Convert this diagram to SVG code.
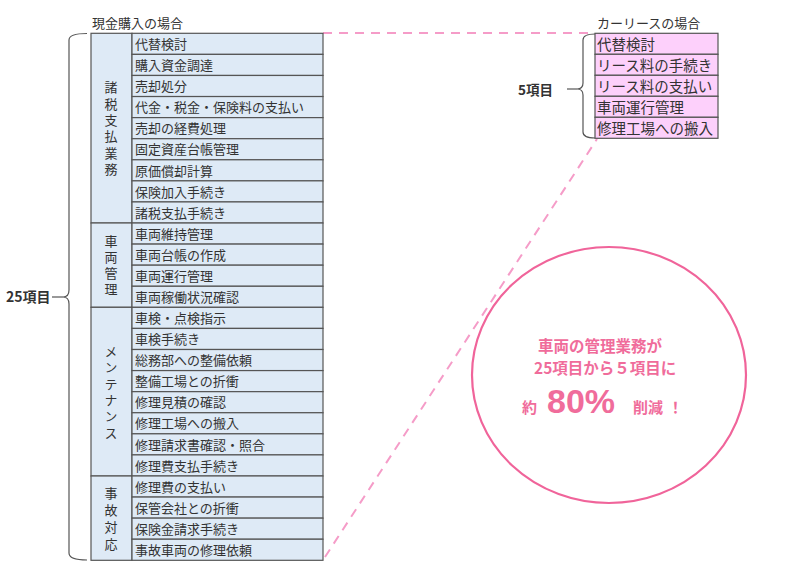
<svg xmlns="http://www.w3.org/2000/svg" width="800" height="579" viewBox="0 0 800 579">
<style>
.t{font-family:"Noto Sans CJK JP","Noto Sans",sans-serif;fill:#333;}
.it{font-size:13px;}
.rit{font-size:14.5px;}
.vt{font-family:"Noto Sans CJK JP","Noto Sans",sans-serif;fill:#333;font-size:13px;writing-mode:vertical-rl;text-anchor:middle;}
.cell{fill:#deeaf6;stroke:#555;stroke-width:1.2;}
.pcell{fill:#fdd0fb;stroke:#555;stroke-width:1.2;}
.br{fill:none;stroke:#555;stroke-width:1.2;}
.dash{fill:none;stroke:#f59cc8;stroke-width:2;stroke-dasharray:9 7;}
.pk{font-family:"Noto Sans CJK JP","Noto Sans",sans-serif;fill:#f06c9b;font-weight:bold;}
</style>
<rect width="800" height="579" fill="#fff"/>
<g id="connectors">
<path class="dash" d="M323,33 L595,33"/>
<path class="dash" d="M325,557 L597,139"/>
<path class="br" d="M87,33.5 Q69,33.5 69,40 L69,290 Q69,297 63,297 Q69,297 69,304 L69,553 Q69,560 87,560"/>
<path class="br" d="M52,297 L63,297"/>
<path class="br" d="M595,34 Q583,34 583,40 L583,83 Q583,89 577,89 Q583,89 583,95 L583,132 Q583,138 595,138"/>
<path class="br" d="M567,89 L577,89"/>
</g>
<g id="left-title"><text class="t" x="92" y="28" font-size="13">現金購入の場合</text></g>
<g id="left-count"><text class="t" x="6" y="302" font-size="14" font-weight="bold">25項目</text></g>
<g id="left-table">
<rect class="cell" x="91" y="33.3" width="41" height="189.7"/>
<rect class="cell" x="91" y="223" width="41" height="84.3"/>
<rect class="cell" x="91" y="307.3" width="41" height="168.7"/>
<rect class="cell" x="91" y="476" width="41" height="84.3"/>
<text class="vt" x="111" y="130" letter-spacing="3.4">諸税支払業務</text>
<text class="vt" x="111" y="267" letter-spacing="3">車両管理</text>
<text class="vt" x="111" y="393.5" letter-spacing="3.4">メンテナンス</text>
<text class="vt" x="111" y="521" letter-spacing="4">事故対応</text>
<rect class="cell" x="132" y="33.3" width="191" height="21.08"/>
<rect class="cell" x="132" y="54.38" width="191" height="21.08"/>
<rect class="cell" x="132" y="75.46" width="191" height="21.08"/>
<rect class="cell" x="132" y="96.54" width="191" height="21.08"/>
<rect class="cell" x="132" y="117.62" width="191" height="21.08"/>
<rect class="cell" x="132" y="138.7" width="191" height="21.08"/>
<rect class="cell" x="132" y="159.78" width="191" height="21.08"/>
<rect class="cell" x="132" y="180.86" width="191" height="21.08"/>
<rect class="cell" x="132" y="201.94" width="191" height="21.08"/>
<rect class="cell" x="132" y="223.02" width="191" height="21.08"/>
<rect class="cell" x="132" y="244.1" width="191" height="21.08"/>
<rect class="cell" x="132" y="265.18" width="191" height="21.08"/>
<rect class="cell" x="132" y="286.26" width="191" height="21.08"/>
<rect class="cell" x="132" y="307.34" width="191" height="21.08"/>
<rect class="cell" x="132" y="328.42" width="191" height="21.08"/>
<rect class="cell" x="132" y="349.5" width="191" height="21.08"/>
<rect class="cell" x="132" y="370.58" width="191" height="21.08"/>
<rect class="cell" x="132" y="391.66" width="191" height="21.08"/>
<rect class="cell" x="132" y="412.74" width="191" height="21.08"/>
<rect class="cell" x="132" y="433.82" width="191" height="21.08"/>
<rect class="cell" x="132" y="454.9" width="191" height="21.08"/>
<rect class="cell" x="132" y="475.98" width="191" height="21.08"/>
<rect class="cell" x="132" y="497.06" width="191" height="21.08"/>
<rect class="cell" x="132" y="518.14" width="191" height="21.08"/>
<rect class="cell" x="132" y="539.22" width="191" height="21.08"/>
<text class="t it" x="135" y="49">代替検討</text>
<text class="t it" x="135" y="70.1">購入資金調達</text>
<text class="t it" x="135" y="91.2">売却処分</text>
<text class="t it" x="135" y="112.2">代金・税金・保険料の支払い</text>
<text class="t it" x="135" y="133.3">売却の経費処理</text>
<text class="t it" x="135" y="154.4">固定資産台帳管理</text>
<text class="t it" x="135" y="175.5">原価償却計算</text>
<text class="t it" x="135" y="196.6">保険加入手続き</text>
<text class="t it" x="135" y="217.6">諸税支払手続き</text>
<text class="t it" x="135" y="238.7">車両維持管理</text>
<text class="t it" x="135" y="259.8">車両台帳の作成</text>
<text class="t it" x="135" y="280.9">車両運行管理</text>
<text class="t it" x="135" y="302">車両稼働状況確認</text>
<text class="t it" x="135" y="323">車検・点検指示</text>
<text class="t it" x="135" y="344.1">車検手続き</text>
<text class="t it" x="135" y="365.2">総務部への整備依頼</text>
<text class="t it" x="135" y="386.3">整備工場との折衝</text>
<text class="t it" x="135" y="407.4">修理見積の確認</text>
<text class="t it" x="135" y="428.4">修理工場への搬入</text>
<text class="t it" x="135" y="449.5">修理請求書確認・照合</text>
<text class="t it" x="135" y="470.6">修理費支払手続き</text>
<text class="t it" x="135" y="491.7">修理費の支払い</text>
<text class="t it" x="135" y="512.8">保管会社との折衝</text>
<text class="t it" x="135" y="533.8">保険金請求手続き</text>
<text class="t it" x="135" y="554.9">事故車両の修理依頼</text>
</g>
<g id="right-title"><text class="t" x="597" y="28" font-size="13">カーリースの場合</text></g>
<g id="right-count"><text class="t" x="518" y="95" font-size="13.5" font-weight="bold">5項目</text></g>
<g id="right-table">
<rect class="pcell" x="595" y="33.3" width="123" height="21"/>
<rect class="pcell" x="595" y="54.3" width="123" height="21"/>
<rect class="pcell" x="595" y="75.3" width="123" height="21"/>
<rect class="pcell" x="595" y="96.3" width="123" height="21"/>
<rect class="pcell" x="595" y="117.3" width="123" height="21"/>
<text class="t rit" x="597" y="49.5">代替検討</text>
<text class="t rit" x="597" y="70.5">リース料の手続き</text>
<text class="t rit" x="597" y="91.5">リース料の支払い</text>
<text class="t rit" x="597" y="112.5">車両運行管理</text>
<text class="t rit" x="597" y="133.5">修理工場への搬入</text>
</g>
<g id="result-circle">
<ellipse cx="609" cy="375" rx="137" ry="128" fill="none" stroke="#f0649a" stroke-width="2.2"/>
<text class="pk" x="538" y="352" font-size="15.5">車両の管理業務が</text>
<text class="pk" x="534" y="374" font-size="15.5">25項目から５項目に</text>
<text class="pk" y="412.5" font-size="15"><tspan x="522">約</tspan><tspan x="547" font-size="34" font-family="'Liberation Sans',Arial,sans-serif">80%</tspan><tspan x="633">削減</tspan><tspan x="668">！</tspan></text>
</g>
</svg>
